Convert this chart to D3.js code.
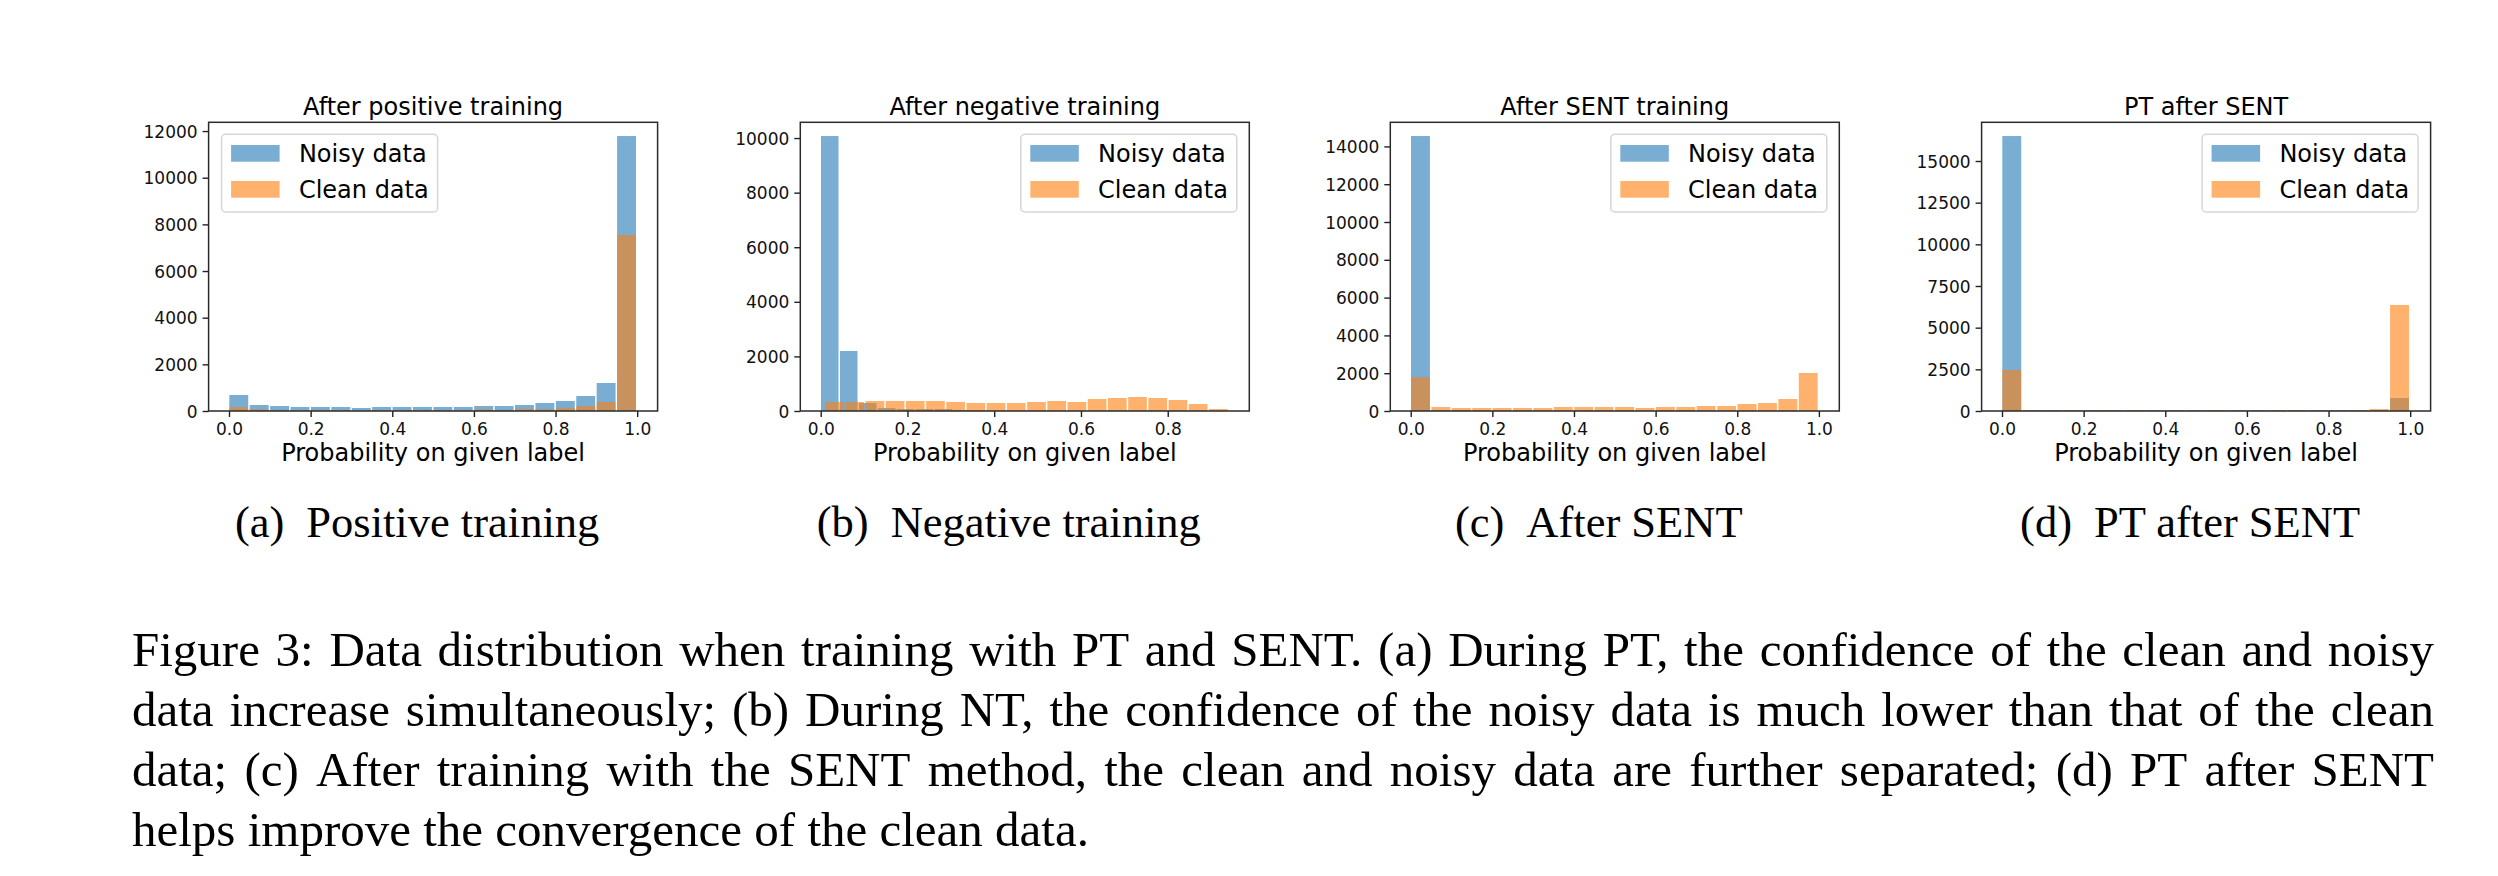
<!DOCTYPE html>
<html><head><meta charset="utf-8">
<script src="https://cdn.jsdelivr.net/npm/d3@7"></script>
<style>
html,body{margin:0;padding:0;background:#fff;}
svg{display:block;}
</style></head><body>
<svg id="fig" width="2498" height="876"></svg>
<script>
// ---------------- DATA ----------------
const panelTitles = ["After positive training", "After negative training", "After SENT training", "PT after SENT"];
const subLabels = ["(a)", "(b)", "(c)", "(d)"];
const subCaptions = ["Positive training", "Negative training", "After SENT", "PT after SENT"];
const legendLabels = ["Noisy data", "Clean data"];
const xAxisLabel = "Probability on given label";

const xTicks1 = [0, 0.2, 0.4, 0.6, 0.8, 1.0];
const xTicks2 = [0, 0.2, 0.4, 0.6, 0.8];
const xTicks3 = [0, 0.2, 0.4, 0.6, 0.8, 1.0];
const xTicks4 = [0, 0.2, 0.4, 0.6, 0.8, 1.0];

const yTicks1 = [0, 2000, 4000, 6000, 8000, 10000, 12000];
const yTicks2 = [0, 2000, 4000, 6000, 8000, 10000];
const yTicks3 = [0, 2000, 4000, 6000, 8000, 10000, 12000, 14000];
const yTicks4 = [0, 2500, 5000, 7500, 10000, 12500, 15000];

// histogram ranges (20 equal bins each)
const noisyRange1 = [0, 1], cleanRange1 = [0, 1];
const noisyRange2 = [0, 0.876], cleanRange2 = [0.0094, 0.941];
const noisyRange3 = [0, 1], cleanRange3 = [0, 1];
const noisyRange4 = [0, 1], cleanRange4 = [0, 1];

const noisyCounts1 = [686, 257, 214, 171, 171, 171, 129, 171, 171, 171, 171, 171, 214, 214, 257, 343, 429, 643, 1200, 11786];
const cleanCounts1 = [157, 71, 43, 29, 29, 29, 29, 29, 29, 29, 29, 29, 71, 43, 86, 71, 129, 214, 386, 7543];

const noisyCounts2 = [10073, 2198, 293, 110, 73, 73, 73, 37, 20, 15, 10, 10, 15, 12, 15, 15, 15, 15, 10, 5];
const cleanCounts2 = [330, 330, 366, 366, 366, 366, 330, 293, 293, 293, 330, 366, 330, 440, 476, 513, 476, 403, 256, 73];

const noisyCounts3 = [14548, 30, 45, 25, 20, 20, 20, 20, 20, 20, 35, 20, 35, 45, 20, 20, 20, 20, 15, 10];
const cleanCounts3 = [1781, 212, 159, 159, 159, 159, 159, 212, 212, 212, 212, 159, 212, 212, 265, 265, 370, 423, 635, 2011];

const noisyCounts4 = [16497, 25, 30, 30, 25, 25, 25, 25, 25, 25, 25, 25, 25, 25, 25, 25, 25, 30, 40, 780];
const cleanCounts4 = [2460, 40, 40, 40, 40, 40, 40, 40, 40, 40, 40, 40, 40, 40, 40, 40, 40, 60, 120, 6360];

const captionLines = [
  "Figure 3: Data distribution when training with PT and SENT. (a) During PT, the confidence of the clean and noisy",
  "data increase simultaneously; (b) During NT, the confidence of the noisy data is much lower than that of the clean",
  "data; (c) After training with the SENT method, the clean and noisy data are further separated; (d) PT after SENT",
  "helps improve the convergence of the clean data."
];

// ---------------- LAYOUT / STYLE ----------------
const panels = [
  {noisy: noisyCounts1, clean: cleanCounts1, nR: noisyRange1, cR: cleanRange1, xt: xTicks1, yt: yTicks1, legend: "left"},
  {noisy: noisyCounts2, clean: cleanCounts2, nR: noisyRange2, cR: cleanRange2, xt: xTicks2, yt: yTicks2, legend: "right"},
  {noisy: noisyCounts3, clean: cleanCounts3, nR: noisyRange3, cR: cleanRange3, xt: xTicks3, yt: yTicks3, legend: "right"},
  {noisy: noisyCounts4, clean: cleanCounts4, nR: noisyRange4, cR: cleanRange4, xt: xTicks4, yt: yTicks4, legend: "right"}
];
const axLeft = [208.6, 800.3, 1390.3, 1981.6];
const axW = 449, axTop = 122.3, axBottom = 411;
const sansFont = "'DejaVu Sans', sans-serif";
const serifFont = "'Liberation Serif', 'Times New Roman', serif";
const blue = "#1f77b4", orange = "#ff7f0e";

const svg = d3.select("#fig");

panels.forEach((p, k) => {
  const g = svg.append("g");
  const lo = Math.min(p.nR[0], p.cR[0]);
  const hi = Math.max(p.nR[1], p.cR[1]);
  const span = hi - lo;
  const x = d3.scaleLinear().domain([lo - 0.05 * span, hi + 0.05 * span]).range([axLeft[k], axLeft[k] + axW]);
  const yMax = 1.05 * d3.max(p.noisy.concat(p.clean));
  const y = d3.scaleLinear().domain([0, yMax]).range([axBottom, axTop]);

  function drawHist(counts, range, color) {
    const bw = (range[1] - range[0]) / counts.length;
    g.append("g").selectAll("rect").data(counts).join("rect")
      .attr("x", (d, i) => x(range[0] + i * bw) + 0.3)
      .attr("width", (d, i) => Math.max(0, x(range[0] + (i + 1) * bw) - x(range[0] + i * bw) - 1.5))
      .attr("y", d => y(d))
      .attr("height", d => y(0) - y(d))
      .attr("fill", color)
      .attr("fill-opacity", 0.6);
  }
  drawHist(p.noisy, p.nR, blue);
  drawHist(p.clean, p.cR, orange);

  // axes
  const xAxis = d3.axisBottom(x).tickValues(p.xt).tickFormat(d3.format(".1f")).tickSizeOuter(0).tickSize(6).tickPadding(4);
  const gx = g.append("g").attr("transform", `translate(0,${axBottom})`).call(xAxis);
  const yAxis = d3.axisLeft(y).tickValues(p.yt).tickFormat(d3.format("d")).tickSizeOuter(0).tickSize(6).tickPadding(5);
  const gy = g.append("g").attr("transform", `translate(${axLeft[k]},0)`).call(yAxis);
  [gx, gy].forEach(a => {
    a.select(".domain").remove();
    a.selectAll(".tick line").attr("stroke", "#222").attr("stroke-width", 1.4);
    a.selectAll(".tick text").attr("font-family", sansFont).attr("font-size", 17).attr("fill", "#111");
  });
  gx.selectAll(".tick text").attr("dy", null).attr("y", 23.5);
  gy.selectAll(".tick text").attr("dy", "0.36em");

  // spines
  g.append("rect").attr("x", axLeft[k]).attr("y", axTop).attr("width", axW).attr("height", axBottom - axTop)
    .attr("fill", "none").attr("stroke", "#2a2a2a").attr("stroke-width", 1.5);

  const cx = axLeft[k] + axW / 2;
  // title
  g.append("text").attr("x", cx).attr("y", 115).attr("text-anchor", "middle")
    .attr("font-family", sansFont).attr("font-size", 24).attr("fill", "#000").text(panelTitles[k]);
  // x label
  g.append("text").attr("x", cx).attr("y", 460.5).attr("text-anchor", "middle")
    .attr("font-family", sansFont).attr("font-size", 24).attr("fill", "#000").text(xAxisLabel);

  // legend
  const lw = 216, lh = 77.7;
  const lx = p.legend === "left" ? axLeft[k] + 13 : axLeft[k] + axW - 12.5 - lw;
  const ly = axTop + 12;
  const lg = g.append("g");
  lg.append("rect").attr("x", lx).attr("y", ly).attr("width", lw).attr("height", lh).attr("rx", 4)
    .attr("fill", "#fff").attr("fill-opacity", 0.8).attr("stroke", "#d6d6d6").attr("stroke-width", 1.5);
  [blue, orange].forEach((c, i) => {
    lg.append("rect").attr("x", lx + 9.5).attr("y", ly + 10.7 + i * 36).attr("width", 48.5).attr("height", 16.7)
      .attr("fill", c).attr("fill-opacity", 0.6);
    lg.append("text").attr("x", lx + 77.3).attr("y", ly + 28 + i * 36)
      .attr("font-family", sansFont).attr("font-size", 24).attr("fill", "#000").text(legendLabels[i]);
  });

  // subcaption
  const st = svg.append("text").attr("x", cx - 16).attr("y", 537).attr("text-anchor", "middle")
    .attr("font-family", serifFont).attr("font-size", 44.5).attr("fill", "#000");
  st.append("tspan").text(subLabels[k]);
  st.append("tspan").attr("dx", 22).text(subCaptions[k]);
});

// caption, justified
const capLeft = 132, capWidth = 2302, capSize = 49;
const capBase = [666, 726, 786, 846];
function measure(str) {
  const t = svg.append("text").attr("font-family", serifFont).attr("font-size", capSize).text(str);
  const w = t.node().getComputedTextLength();
  t.remove();
  return w;
}
const spaceW = measure("a a") - measure("aa");
captionLines.forEach((line, li) => {
  const words = line.split(" ");
  const widths = words.map(measure);
  const total = d3.sum(widths);
  const last = li === captionLines.length - 1;
  const gap = last ? spaceW : (capWidth - total) / (words.length - 1);
  let cxp = capLeft;
  const tg = svg.append("g");
  words.forEach((w, i) => {
    tg.append("text").attr("x", cxp).attr("y", capBase[li])
      .attr("font-family", serifFont).attr("font-size", capSize).attr("fill", "#000").text(w);
    cxp += widths[i] + gap;
  });
});
</script>
</body></html>
